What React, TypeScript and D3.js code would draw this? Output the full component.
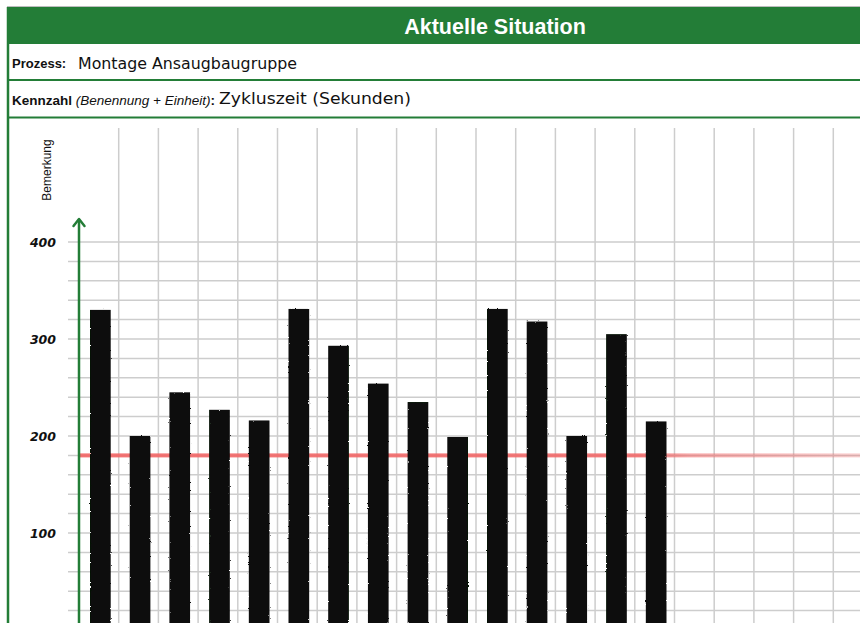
import React from "react";
import * as d3 from "d3";

const categories = ["1","2","3","4","5","6","7","8","9","10","11","12","13","14","15"];
const cycleTimes = [330, 200, 245, 227, 216, 331, 293, 254, 235, 199, 331, 318, 200, 305, 215];
const target = 180;
const yTickLabels = [100, 200, 300, 400];
const gridStep = 20;
const extraColumns = 5;

const W = 860;
const H = 623;

export default function App() {
  const colW = 39.7;
  const x0 = 79;
  const x = d3
    .scaleBand<string>()
    .domain(categories)
    .range([x0 + 1.5, x0 + 1.5 + colW * categories.length])
    .paddingInner(0.48)
    .paddingOuter(0.24);
  const y = d3.scaleLinear().domain([0, 400]).range([630, 242]);
  const hLines = d3.range(gridStep, 400 + 1, gridStep);
  const vLines = d3.range(1, categories.length + extraColumns + 1).map((k) => x0 + k * colW);
  const hand = "'DejaVu Sans', 'Noto Sans', sans-serif";
  const sans = "'Liberation Sans', Arial, Helvetica, sans-serif";
  const green = "#237d37";

  return (
    <svg width={W} height={H} style={{ position: "absolute", left: 0, top: 0, background: "#fff" }}>
      <defs>
        <linearGradient id="redFade" gradientUnits="userSpaceOnUse" x1={x0} x2={W} y1={0} y2={0}>
          <stop offset="0%" stopColor="#f26464" stopOpacity={0.9} />
          <stop offset="72%" stopColor="#f26464" stopOpacity={0.85} />
          <stop offset="78%" stopColor="#f26464" stopOpacity={0.55} />
          <stop offset="100%" stopColor="#f26464" stopOpacity={0.3} />
        </linearGradient>
        <filter id="rough" x="-10%" y="-2%" width="120%" height="104%">
          <feTurbulence type="fractalNoise" baseFrequency="0.6" numOctaves={2} seed={3} result="n" />
          <feDisplacementMap in="SourceGraphic" in2="n" scale={2} xChannelSelector="R" yChannelSelector="G" />
        </filter>
      </defs>

      {/* header */}
      <line x1={7} x2={W} y1={6.5} y2={6.5} stroke="#bdbdbd" strokeWidth={1} />
      <rect x={7} y={7} width={W - 7} height={37} fill={green} />
      <text x={495} y={33.5} textAnchor="middle" fill="#fff" fontFamily={sans} fontWeight="bold" fontSize={21.5}>
        Aktuelle Situation
      </text>

      {/* row 1 */}
      <text x={12} y={68} fontFamily={sans} fontWeight="bold" fontSize={13} fill="#111">Prozess:</text>
      <text x={78} y={69} fontFamily={hand} fontSize={15} fill="#111" textLength={219} lengthAdjust="spacingAndGlyphs">
        Montage Ansaugbaugruppe
      </text>
      <line x1={8} x2={W} y1={80} y2={80} stroke={green} strokeWidth={2} />

      {/* row 2 */}
      <text x={12} y={105} fontFamily={sans} fontSize={13.5} fill="#111">
        <tspan fontWeight="bold">Kennzahl </tspan>
        <tspan fontStyle="italic">(Benennung + Einheit)</tspan>
        <tspan fontWeight="bold">:</tspan>
      </text>
      <text x={219} y={104} fontFamily={hand} fontSize={15} fill="#111" textLength={192} lengthAdjust="spacingAndGlyphs">
        Zykluszeit (Sekunden)
      </text>
      <line x1={8} x2={W} y1={117.5} y2={117.5} stroke={green} strokeWidth={2} />

      {/* grid */}
      {vLines.map((vx, i) => (
        <line key={"v" + i} x1={vx} x2={vx} y1={128} y2={H} stroke="#cdcdcd" strokeWidth={1.5} />
      ))}
      {hLines.map((v) => (
        <line key={"h" + v} x1={68} x2={W} y1={y(v)} y2={y(v)} stroke="#cdcdcd" strokeWidth={1.5} />
      ))}

      {/* remark label */}
      <text
        transform={`translate(51, 170) rotate(-90)`}
        textAnchor="middle"
        fontFamily={sans}
        fontSize={12}
        fill="#111"
      >
        Bemerkung
      </text>

      {/* y tick labels */}
      {yTickLabels.map((t) => (
        <text key={"t" + t} x={56} y={y(t) + 4.5} textAnchor="end" fontFamily={hand} fontWeight="bold" fontStyle="italic" fontSize={12.5} fill="#111">
          {t}
        </text>
      ))}

      {/* target line (behind bars) */}
      <rect x={x0} y={y(target) - 2} width={W - x0} height={4} fill="url(#redFade)" />

      {/* bars */}
      <g filter="url(#rough)">
        {categories.map((c, i) => (
          <rect
            key={"b" + c}
            x={x(c)!}
            y={y(cycleTimes[i])}
            width={x.bandwidth()}
            height={H + 10 - y(cycleTimes[i])}
            fill="#070907"
          />
        ))}
      </g>

      {/* axis arrow */}
      <line x1={x0} x2={x0} y1={219} y2={H} stroke={green} strokeWidth={2.5} />
      <polyline points={`${x0 - 5.5},${226} ${x0},${219} ${x0 + 5.5},${226}`} fill="none" stroke={green} strokeWidth={2.5} strokeLinecap="round" strokeLinejoin="round" />

      {/* left border */}
      <line x1={8} x2={8} y1={7} y2={H} stroke={green} strokeWidth={2.5} />
    </svg>
  );
}
